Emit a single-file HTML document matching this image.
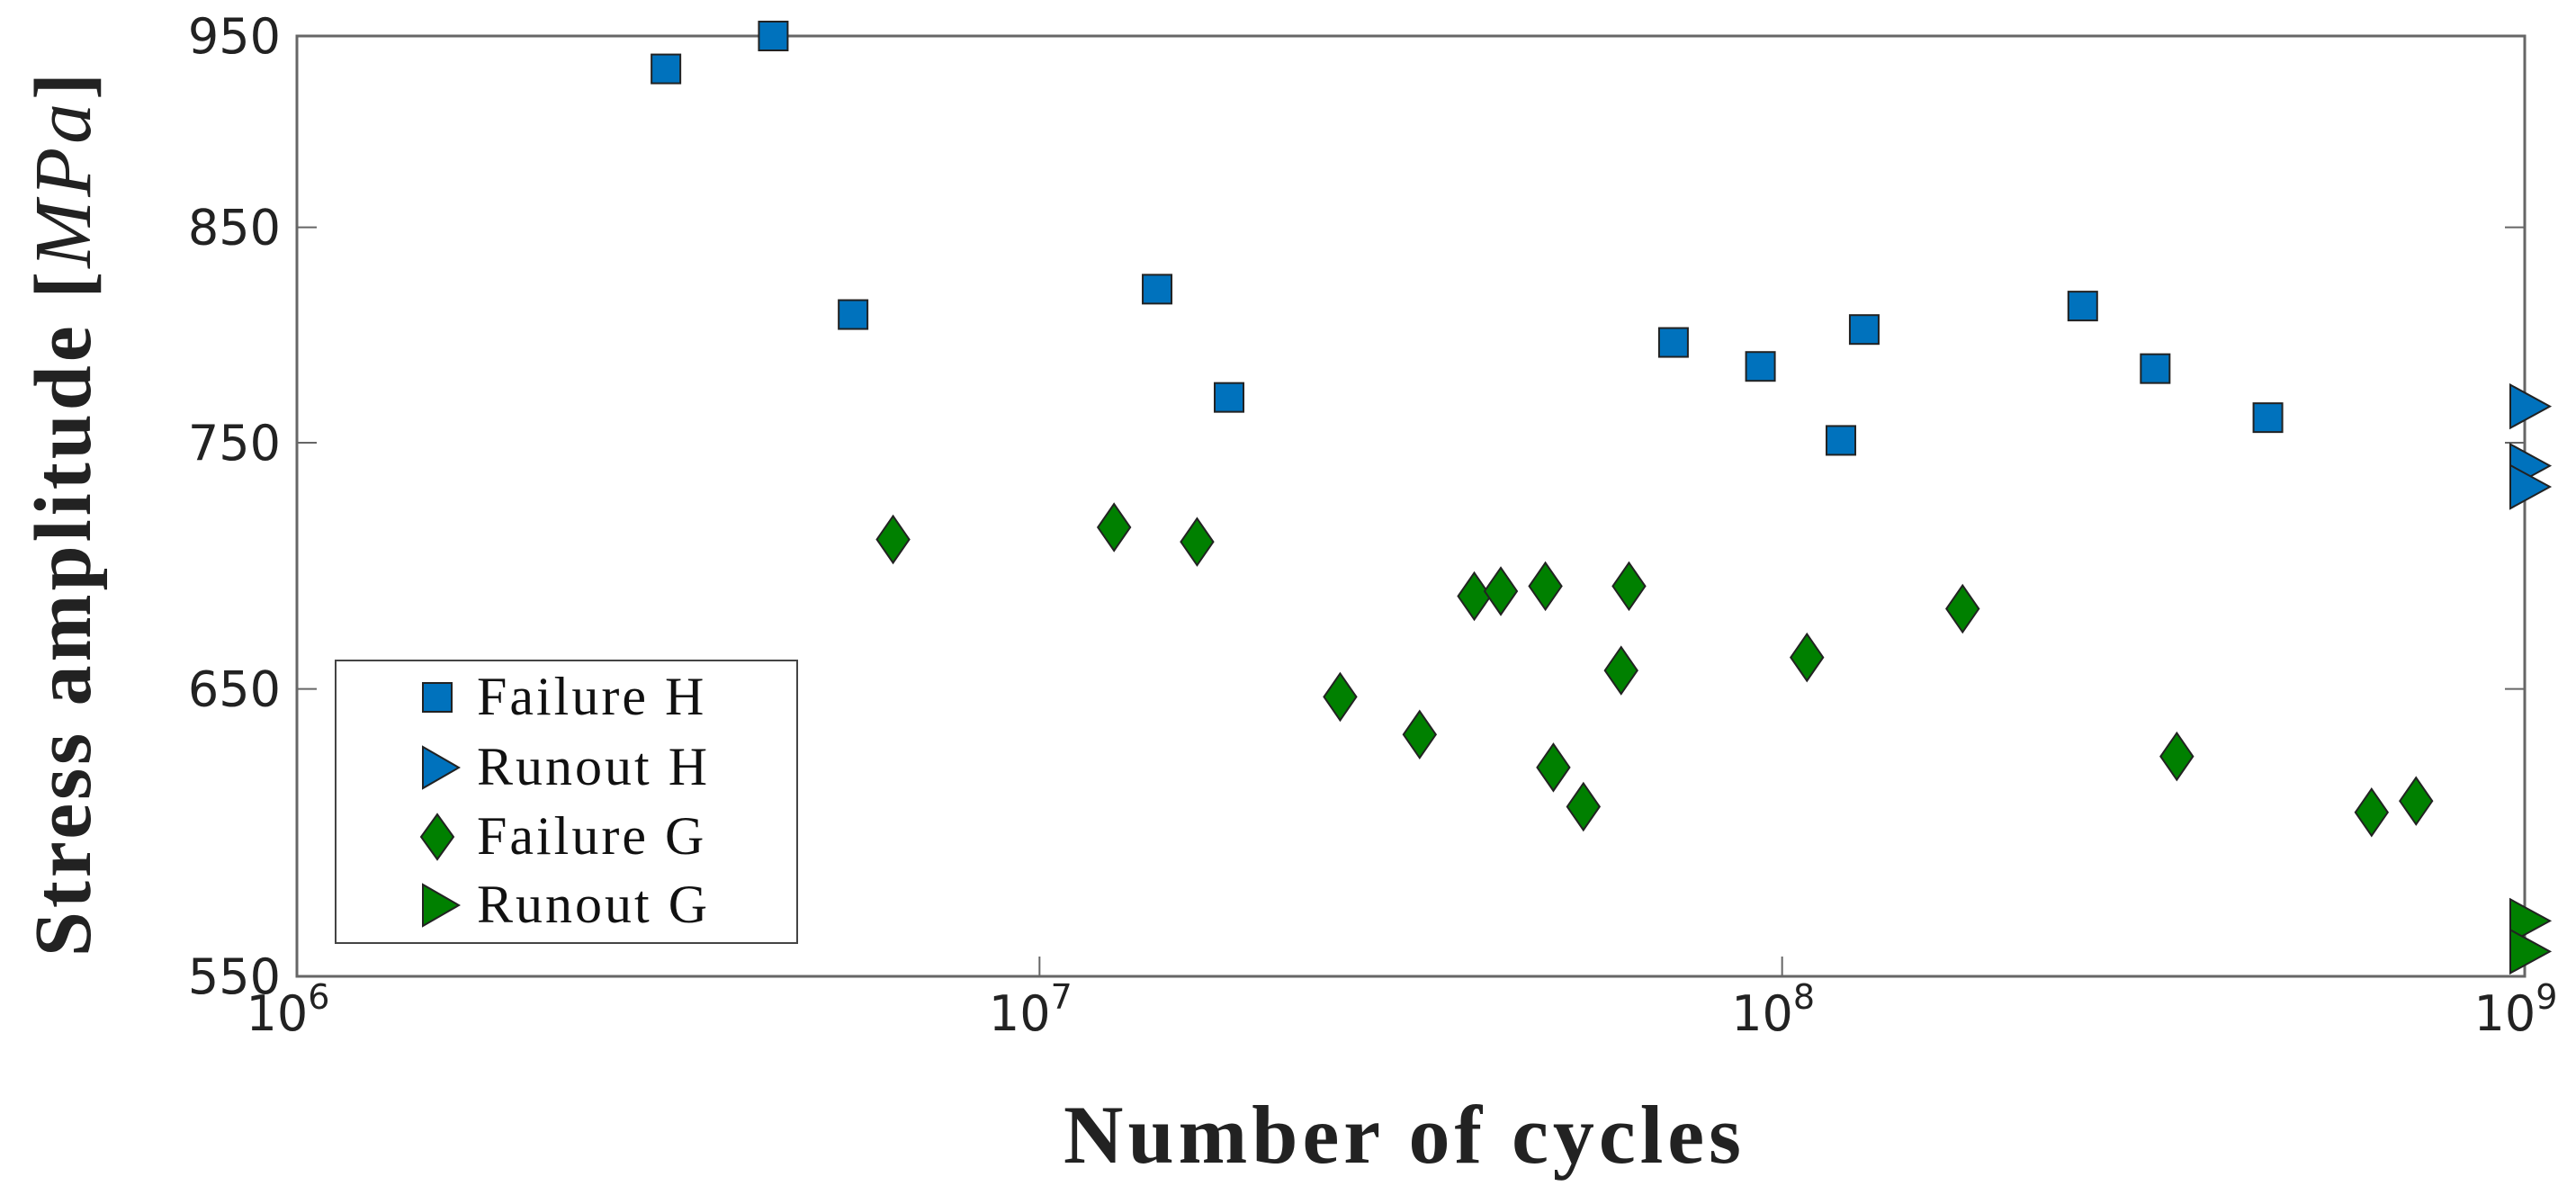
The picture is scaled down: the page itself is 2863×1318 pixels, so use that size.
<!DOCTYPE html>
<html><head><meta charset="utf-8"><style>
body{margin:0;background:#fff}
svg{display:block}
</style></head><body>
<svg id="chart" width="2863" height="1318" viewBox="0 0 2863 1318" xmlns="http://www.w3.org/2000/svg">
<rect width="2863" height="1318" fill="#fff"/>
<g id="axes"></g>
<g id="marks"></g>
<text x="1561" y="1292" text-anchor="middle" font-family="Liberation Serif, serif" font-weight="bold" font-size="92" letter-spacing="5" fill="#222">Number of cycles</text>
<text transform="translate(100,570) rotate(-90)" text-anchor="middle" font-family="Liberation Serif, serif" font-weight="bold" font-size="90" letter-spacing="4" fill="#222">Stress amplitude [<tspan font-style="italic" font-weight="normal">MPa</tspan>]</text>
<g>
<rect x="373" y="734" width="513" height="314" fill="#fff" stroke="#444" stroke-width="2"/>
<rect x="470" y="759" width="32" height="32" fill="#0072BD" stroke="#222" stroke-width="2"/>
<text x="530" y="794" font-family="Liberation Serif, serif" font-size="60" letter-spacing="3" fill="#111">Failure H</text>
<polygon points="470,830 510,853 470,876" fill="#0072BD" stroke="#222" stroke-width="2"/>
<text x="530" y="872" font-family="Liberation Serif, serif" font-size="60" letter-spacing="3" fill="#111">Runout H</text>
<polygon points="486,905 504,930 486,955 468,930" fill="#008000" stroke="#222" stroke-width="2"/>
<text x="530" y="949" font-family="Liberation Serif, serif" font-size="60" letter-spacing="3" fill="#111">Failure G</text>
<polygon points="470,983 510,1006 470,1029" fill="#008000" stroke="#222" stroke-width="2"/>
<text x="530" y="1025" font-family="Liberation Serif, serif" font-size="60" letter-spacing="3" fill="#111">Runout G</text>
</g>
</svg>
<script>
const failureHCycles=[3.14e6,4.38e6,5.61e6,1.44e7,1.80e7,7.14e7,9.35e7,1.20e8,1.29e8,2.54e8,3.18e8,4.51e8];
const failureHStress=[932,950,808,820,770,795,784,751,801,812,783,761];
const runoutHCycles=[1e9,1e9,1e9];
const runoutHStress=[766,740,731];
const failureGCycles=[6.35e6,1.26e7,1.63e7,2.54e7,3.25e7,3.85e7,4.18e7,4.80e7,4.92e7,5.40e7,6.07e7,6.22e7,1.08e8,1.75e8,3.40e8,6.22e8,7.14e8];
const failureGStress=[709,714,708,647,633,686,688,690,621,607,657,690,662,681,625,605,609];
const runoutGCycles=[1e9,1e9];
const runoutGStress=[568,558];
const yTicks=[550,650,750,850,950];
const xTickExps=[6,7,8,9];

const L=330,R=2806,T=40,B=1085;
const xMin=6,xMax=9,yMin=550,yMax=950;
function xs(v){return L+(Math.log10(v)-xMin)/(xMax-xMin)*(R-L);}
function ys(v){return B-(Math.log10(v)-Math.log10(yMin))/(Math.log10(yMax)-Math.log10(yMin))*(B-T);}
const NS='http://www.w3.org/2000/svg';
const axes=document.getElementById('axes'),marks=document.getElementById('marks');
function mk(tag,attrs,parent){const e=document.createElementNS(NS,tag);for(const k in attrs)e.setAttribute(k,attrs[k]);parent.appendChild(e);return e;}
let frame=mk('rect',{x:L,y:T,width:R-L,height:B-T,fill:'none',stroke:'#666','stroke-width':3},axes);


yTicks.forEach(v=>{
  const y=ys(v);
  let t1=mk('line',{x1:L,x2:L+22,y1:y,y2:y,stroke:'#666','stroke-width':2},axes);
  
  
  let t2=mk('line',{x1:R-22,x2:R,y1:y,y2:y,stroke:'#666','stroke-width':2},axes);
  
  
  let tx=mk('text',{x:L-18,y:y+19,'text-anchor':'end','font-family':'DejaVu Sans, sans-serif','font-size':54,fill:'#222'},axes);
  tx.textContent=v;
  
  
});
xTickExps.forEach(e=>{
  const x=xs(Math.pow(10,e));
  let tk=mk('line',{x1:x,x2:x,y1:B,y2:B-22,stroke:'#666','stroke-width':2},axes);
  
  
  let tx=mk('text',{x:x-10,y:B+60,'text-anchor':'middle','font-family':'DejaVu Sans, sans-serif','font-size':54,fill:'#222'},axes);
  tx.textContent='10';
  
  
  let sp=mk('tspan',{dy:-24,'font-size':38},tx);
  sp.textContent=e;
});
function square(cx,cy){let e=mk('rect',{x:cx-16,y:cy-16,width:32,height:32,fill:'#0072BD',stroke:'#222','stroke-width':2},marks);return e;}
function tri(cx,cy,c){let e=mk('polygon',{points:`${cx-20},${cy-24} ${cx+24},${cy} ${cx-20},${cy+24}`,fill:c,stroke:'#222','stroke-width':2},marks);return e;}
function diamond(cx,cy){let e=mk('polygon',{points:`${cx},${cy-26} ${cx+18},${cy} ${cx},${cy+26} ${cx-18},${cy}`,fill:'#008000',stroke:'#222','stroke-width':2},marks);return e;}
failureHCycles.forEach((c,i)=>{const e=square(xs(c),ys(failureHStress[i]));
  
  });
failureGCycles.forEach((c,i)=>{const e=diamond(xs(c),ys(failureGStress[i]));
  
  });
runoutHCycles.forEach((c,i)=>{const e=tri(xs(c)+4,ys(runoutHStress[i]),'#0072BD');
  
  });
runoutGCycles.forEach((c,i)=>{const e=tri(xs(c)+4,ys(runoutGStress[i]),'#008000');
  
  });
</script>
</body></html>
